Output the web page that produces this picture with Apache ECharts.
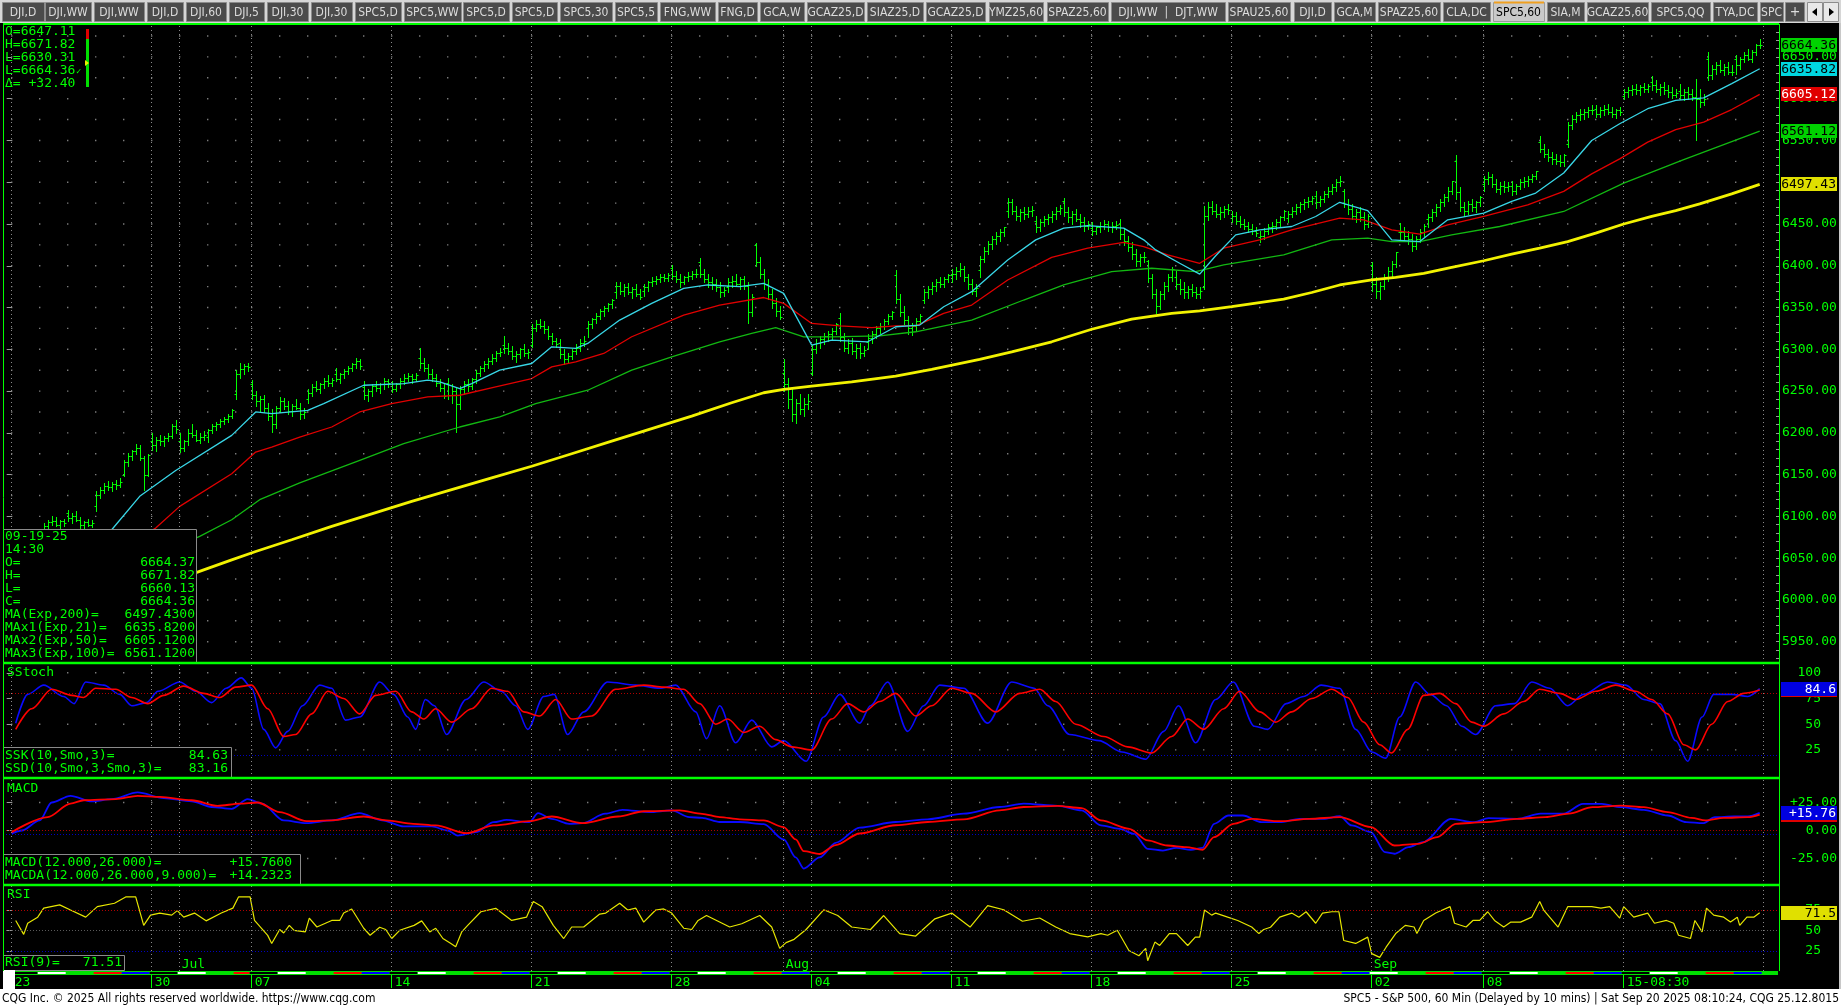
<!DOCTYPE html>
<html>
<head>
<meta charset="utf-8">
<title>SPC5 - S&amp;P 500, 60 Min</title>
<script src="https://cdn.jsdelivr.net/npm/echarts@6.0.0/dist/echarts.min.js"></script>
<style>
html,body{margin:0;padding:0;background:#000;overflow:hidden;}
#chart{width:1841px;height:1008px;}
</style>
</head>
<body>
<div id="chart"></div>
<script>
// ================= DATA =================
const tradingDays = ['2025-06-23','2025-06-24','2025-06-25','2025-06-26','2025-06-27','2025-06-30',
'2025-07-01','2025-07-02','2025-07-03','2025-07-07','2025-07-08','2025-07-09','2025-07-10','2025-07-11',
'2025-07-14','2025-07-15','2025-07-16','2025-07-17','2025-07-18','2025-07-21','2025-07-22','2025-07-23',
'2025-07-24','2025-07-25','2025-07-28','2025-07-29','2025-07-30','2025-07-31','2025-08-01','2025-08-04',
'2025-08-05','2025-08-06','2025-08-07','2025-08-08','2025-08-11','2025-08-12','2025-08-13','2025-08-14',
'2025-08-15','2025-08-18','2025-08-19','2025-08-20','2025-08-21','2025-08-22','2025-08-25','2025-08-26',
'2025-08-27','2025-08-28','2025-08-29','2025-09-02','2025-09-03','2025-09-04','2025-09-05','2025-09-08',
'2025-09-09','2025-09-10','2025-09-11','2025-09-12','2025-09-15','2025-09-16','2025-09-17','2025-09-18','2025-09-19'];
const shortSessions = {'2025-07-03': 4};   // bars in a shortened session (others have 7)
const weekLabels = ['23','30','07','14','21','28','04','11','18','25','02','08','15-08:30'];
const monthLabels = ['Jul','Aug','Sep'];

// hourly bars [open, high, low, close]
const ohlcJun = [
[5970,5986,5962,5975],[5975,5980,5955,5960],[5960,5968,5943,5965],[5965,5990,5960,5985],[5985,6000,5980,5995],[5995,6012,5990,6008],[6008,6026,6005,6025],
[6062,6085,6058,6080],[6080,6092,6075,6088],[6088,6096,6084,6093],[6093,6101,6090,6095],[6095,6099,6088,6090],[6090,6096,6086,6094],[6094,6097,6089,6092],
[6104,6108,6095,6098],[6098,6104,6092,6100],[6100,6106,6094,6096],[6096,6099,6086,6090],[6090,6095,6082,6093],[6093,6097,6088,6090],[6090,6096,6087,6092],
[6112,6130,6107,6126],[6126,6135,6122,6132],[6132,6140,6128,6136],[6136,6142,6131,6135],[6135,6141,6130,6139],[6139,6144,6133,6137],[6137,6146,6135,6141],
[6150,6168,6148,6165],[6165,6176,6160,6172],[6172,6180,6168,6178],[6178,6187,6175,6182],[6182,6185,6168,6170],[6170,6172,6132,6150],[6150,6175,6148,6173],
[6190,6200,6180,6185],[6185,6195,6178,6192],[6192,6198,6186,6190],[6190,6196,6184,6194],[6194,6200,6190,6196],[6196,6210,6194,6208],[6208,6215,6200,6205]];
const ohlcJul = [
[6190,6200,6177,6182],[6182,6192,6178,6190],[6190,6205,6186,6200],[6200,6210,6195,6198],[6198,6203,6190,6192],[6192,6200,6188,6195],[6195,6202,6192,6198],
[6195,6205,6189,6203],[6203,6210,6200,6208],[6208,6213,6204,6210],[6210,6216,6207,6214],[6214,6219,6210,6217],[6217,6222,6213,6220],[6220,6228,6218,6227],
[6246,6275,6241,6270],[6270,6284,6266,6276],[6276,6283,6270,6280],[6280,6284,6274,6279],
[6259,6263,6240,6245],[6245,6250,6232,6238],[6238,6244,6225,6240],[6240,6245,6225,6230],[6230,6236,6215,6220],[6220,6228,6201,6210],[6210,6232,6206,6230],
[6230,6243,6225,6238],[6238,6242,6228,6232],[6232,6238,6222,6226],[6226,6234,6220,6232],[6232,6240,6228,6230],[6230,6236,6216,6222],[6222,6230,6218,6225],
[6240,6252,6236,6248],[6248,6258,6244,6255],[6255,6262,6250,6252],[6252,6260,6248,6258],[6258,6266,6254,6262],[6262,6269,6256,6260],[6260,6266,6256,6263],
[6270,6278,6262,6265],[6265,6272,6260,6270],[6270,6276,6266,6274],[6274,6280,6270,6278],[6278,6284,6274,6282],[6282,6290,6278,6286],[6286,6288,6276,6280],
[6255,6262,6240,6245],[6245,6252,6238,6250],[6250,6258,6244,6256],[6256,6262,6250,6254],[6254,6260,6248,6258],[6258,6266,6252,6262],[6262,6265,6255,6260],
[6256,6262,6249,6252],[6252,6260,6250,6258],[6258,6266,6254,6262],[6262,6270,6258,6266],[6266,6272,6262,6268],[6268,6271,6260,6264],[6264,6272,6262,6269],
[6290,6302,6278,6284],[6284,6290,6274,6278],[6278,6282,6266,6270],[6270,6276,6262,6266],[6266,6270,6256,6260],[6260,6264,6250,6254],[6254,6258,6242,6244],
[6260,6266,6240,6245],[6245,6258,6236,6250],[6250,6254,6201,6235],[6235,6256,6228,6252],[6252,6262,6246,6258],[6258,6264,6250,6256],[6256,6266,6252,6264],
[6264,6275,6260,6272],[6272,6280,6268,6278],[6278,6286,6274,6282],[6282,6290,6278,6286],[6286,6294,6282,6290],[6290,6298,6286,6295],[6295,6302,6292,6297],
[6305,6316,6296,6302],[6302,6308,6294,6298],[6298,6304,6288,6292],[6292,6298,6285,6294],[6294,6302,6290,6300],[6300,6306,6292,6296],[6296,6300,6290,6297],
[6305,6330,6303,6326],[6326,6335,6322,6330],[6330,6336,6325,6328],[6328,6334,6320,6324],[6324,6328,6312,6316],[6316,6320,6306,6310],[6310,6314,6303,6306],
[6307,6312,6290,6294],[6294,6300,6282,6288],[6288,6296,6284,6292],[6292,6300,6288,6298],[6298,6306,6294,6302],[6302,6312,6298,6308],[6308,6316,6304,6310],
[6326,6334,6315,6330],[6330,6338,6326,6336],[6336,6344,6332,6340],[6340,6348,6336,6346],[6346,6352,6340,6350],[6350,6356,6346,6354],[6354,6360,6350,6359],
[6368,6381,6362,6376],[6376,6380,6366,6370],[6370,6378,6364,6374],[6374,6379,6366,6368],[6368,6375,6362,6372],[6372,6378,6364,6366],[6366,6372,6360,6363],
[6370,6378,6364,6375],[6375,6382,6370,6380],[6380,6386,6376,6382],[6382,6388,6378,6384],[6384,6390,6380,6386],[6386,6390,6382,6385],[6385,6391,6382,6389],
[6397,6401,6384,6388],[6388,6394,6380,6384],[6384,6390,6375,6380],[6380,6388,6378,6386],[6386,6392,6382,6388],[6388,6394,6384,6390],[6390,6396,6386,6390],
[6404,6409,6386,6390],[6390,6396,6380,6384],[6384,6390,6374,6380],[6380,6386,6372,6378],[6378,6384,6370,6374],[6374,6380,6363,6368],[6368,6375,6364,6371],
[6375,6385,6368,6380],[6380,6388,6374,6382],[6382,6390,6376,6378],[6378,6386,6372,6384],[6384,6388,6372,6376],[6376,6380,6332,6345],[6345,6366,6340,6363],
[6425,6427,6400,6405],[6405,6410,6385,6390],[6390,6396,6372,6378],[6378,6384,6360,6366],[6366,6372,6350,6356],[6356,6362,6340,6346],[6346,6352,6336,6339]];
const ohlcAug = [
[6272,6288,6250,6258],[6258,6266,6230,6240],[6240,6252,6214,6222],[6222,6240,6212,6236],[6236,6246,6222,6228],[6228,6242,6220,6234],[6234,6246,6228,6238],
[6272,6305,6269,6300],[6300,6312,6296,6308],[6308,6316,6302,6312],[6312,6320,6306,6316],[6316,6322,6310,6318],[6318,6326,6312,6322],[6322,6331,6318,6330],
[6337,6344,6310,6315],[6315,6320,6298,6302],[6302,6312,6296,6308],[6308,6314,6294,6298],[6298,6306,6290,6302],[6302,6308,6289,6296],[6296,6304,6292,6299],
[6309,6318,6300,6314],[6314,6322,6308,6318],[6318,6328,6314,6325],[6325,6332,6320,6328],[6328,6336,6324,6334],[6334,6342,6330,6340],[6340,6346,6336,6345],
[6389,6395,6355,6360],[6360,6366,6340,6345],[6345,6352,6330,6335],[6335,6340,6318,6325],[6325,6332,6317,6328],[6328,6338,6322,6334],[6334,6342,6330,6340],
[6359,6372,6355,6368],[6368,6376,6362,6372],[6372,6380,6366,6376],[6376,6384,6370,6380],[6380,6386,6374,6378],[6378,6386,6374,6384],[6384,6390,6380,6389],
[6389,6396,6380,6390],[6390,6398,6384,6394],[6394,6403,6388,6396],[6396,6400,6382,6386],[6386,6390,6372,6378],[6378,6384,6366,6370],[6370,6378,6364,6373],
[6395,6412,6386,6408],[6408,6422,6404,6418],[6418,6430,6414,6426],[6426,6436,6420,6432],[6432,6440,6426,6436],[6436,6444,6430,6440],[6440,6447,6436,6446],
[6466,6481,6458,6476],[6476,6480,6462,6466],[6466,6472,6455,6460],[6460,6468,6453,6464],[6464,6470,6456,6462],[6462,6470,6458,6466],[6466,6472,6460,6467],
[6453,6460,6441,6446],[6446,6456,6442,6452],[6452,6460,6448,6456],[6456,6462,6450,6458],[6458,6466,6452,6462],[6462,6470,6456,6466],[6466,6473,6462,6469],
[6478,6481,6460,6464],[6464,6470,6452,6458],[6458,6466,6450,6462],[6462,6468,6454,6456],[6456,6462,6446,6452],[6452,6458,6442,6448],[6448,6454,6444,6450],
[6445,6452,6437,6442],[6442,6448,6438,6446],[6446,6452,6440,6448],[6448,6455,6444,6450],[6450,6454,6442,6446],[6446,6452,6440,6448],[6448,6454,6444,6449],
[6450,6456,6432,6438],[6438,6444,6425,6430],[6430,6436,6418,6422],[6422,6428,6408,6414],[6414,6420,6400,6406],[6406,6414,6400,6410],[6410,6416,6404,6411],
[6406,6407,6380,6385],[6385,6390,6362,6366],[6366,6372,6343,6352],[6352,6370,6348,6366],[6366,6380,6360,6376],[6376,6390,6370,6386],[6386,6398,6382,6396],
[6387,6394,6372,6378],[6378,6384,6366,6372],[6372,6380,6361,6368],[6368,6376,6362,6372],[6372,6378,6364,6368],[6368,6374,6362,6366],[6366,6374,6362,6370],
[6374,6472,6372,6460],[6460,6476,6455,6470],[6470,6478,6462,6466],[6466,6474,6458,6462],[6462,6470,6456,6464],[6464,6472,6458,6468],[6468,6474,6462,6467],
[6457,6466,6452,6460],[6460,6464,6450,6454],[6454,6460,6446,6450],[6450,6456,6444,6448],[6448,6452,6440,6444],[6444,6450,6438,6442],[6442,6446,6436,6439],
[6435,6442,6428,6436],[6436,6445,6432,6442],[6442,6450,6438,6446],[6446,6452,6440,6448],[6448,6456,6444,6452],[6452,6460,6448,6458],[6458,6467,6455,6466],
[6457,6466,6452,6462],[6462,6470,6458,6466],[6466,6474,6462,6470],[6470,6476,6464,6474],[6474,6480,6468,6476],[6476,6482,6470,6478],[6478,6484,6474,6481],
[6483,6490,6469,6476],[6476,6484,6472,6480],[6480,6490,6476,6486],[6486,6494,6482,6490],[6490,6498,6486,6494],[6494,6504,6490,6500],[6500,6508,6496,6502],
[6490,6492,6470,6474],[6474,6480,6462,6468],[6468,6474,6456,6460],[6460,6468,6452,6464],[6464,6470,6454,6458],[6458,6464,6444,6450],[6450,6462,6446,6460]];
const ohlcSep = [
[6401,6404,6370,6378],[6378,6386,6362,6370],[6370,6380,6360,6376],[6376,6390,6372,6386],[6386,6398,6382,6394],[6394,6406,6388,6402],[6402,6416,6398,6416],
[6441,6451,6432,6440],[6440,6446,6430,6436],[6436,6442,6426,6432],[6432,6438,6418,6424],[6424,6436,6420,6432],[6432,6444,6428,6440],[6440,6450,6436,6448],
[6456,6462,6446,6458],[6458,6468,6454,6464],[6464,6474,6460,6470],[6470,6480,6466,6476],[6476,6486,6472,6482],[6482,6494,6478,6490],[6490,6502,6486,6502],
[6525,6533,6480,6488],[6488,6494,6466,6470],[6470,6476,6460,6466],[6466,6478,6462,6474],[6474,6480,6466,6470],[6470,6478,6464,6476],[6476,6484,6472,6482],
[6498,6508,6490,6504],[6504,6512,6498,6506],[6506,6510,6494,6498],[6498,6504,6488,6492],[6492,6500,6486,6496],[6496,6502,6488,6494],[6494,6500,6490,6495],
[6496,6502,6485,6490],[6490,6498,6486,6496],[6496,6504,6492,6500],[6500,6506,6494,6502],[6502,6508,6496,6504],[6504,6510,6500,6508],[6508,6514,6504,6513],
[6548,6555,6536,6540],[6540,6546,6530,6534],[6534,6540,6526,6530],[6530,6536,6522,6528],[6528,6534,6522,6526],[6526,6532,6520,6524],[6524,6534,6520,6532],
[6546,6572,6542,6568],[6568,6580,6564,6576],[6576,6584,6572,6580],[6580,6588,6574,6582],[6582,6588,6576,6584],[6584,6590,6578,6586],[6586,6593,6582,6587],
[6588,6593,6578,6582],[6582,6590,6578,6586],[6586,6592,6580,6588],[6588,6594,6582,6584],[6584,6590,6578,6582],[6582,6588,6577,6586],[6586,6590,6580,6584],
[6603,6612,6600,6608],[6608,6614,6602,6610],[6610,6616,6604,6612],[6612,6618,6606,6610],[6610,6616,6604,6614],[6614,6619,6608,6612],[6612,6618,6608,6615],
[6620,6627,6610,6616],[6616,6622,6608,6612],[6612,6618,6604,6614],[6614,6620,6606,6610],[6610,6616,6602,6608],[6608,6614,6601,6604],[6604,6612,6602,6607],
[6609,6618,6600,6604],[6604,6612,6598,6608],[6608,6614,6600,6606],[6606,6612,6598,6602],[6602,6624,6551,6600],[6600,6612,6590,6596],[6596,6606,6592,6600],
[6648,6656,6622,6628],[6628,6640,6624,6636],[6636,6644,6630,6640],[6640,6646,6632,6634],[6634,6642,6628,6638],[6638,6644,6630,6632],[6632,6640,6628,6632],
[6647,6652,6630,6640],[6640,6650,6636,6648],[6648,6656,6644,6652],[6652,6660,6646,6648],[6648,6658,6644,6656],[6656,6666,6652,6664],[6664.37,6671.82,6660.13,6664.36]];

// moving averages: [bar index, value]
const ma200 = [[30,6008],[40,6022],[48,6036],[55,6048],[61,6058],[70,6072],[80,6088],[90,6103],[100,6118],[110,6132],[120,6146],[130,6160],[140,6175],[150,6190],[160,6205],[170,6220],[180,6236],[188,6248],[193,6252],[200,6256],[210,6261],[221,6268],[230,6276],[242,6288],[250,6297],[260,6309],[270,6324],[280,6336],[290,6343],[297,6346],[305,6351],[318,6360],[325,6368],[332,6377],[340,6383],[346,6386],[353,6391],[360,6398],[368,6406],[375,6414],[382,6421],[389,6429],[396,6439],[403,6450],[410,6459],[416,6466],[422,6474],[430,6486],[437,6497.43]];
const ma21 = [[10,6050],[25,6084],[32,6124],[41,6155],[55,6197],[61,6225],[65,6223],[74,6227],[78,6235],[88,6257],[98,6259],[104,6263],[107,6261],[112,6253],[115,6259],[122,6275],[130,6283],[135,6303],[141,6301],[144,6307],[152,6335],[160,6355],[168,6373],[174,6377],[182,6375],[188,6379],[193,6367],[200,6305],[205,6311],[214,6309],[221,6327],[227,6329],[233,6351],[240,6369],[249,6407],[256,6431],[263,6445],[269,6448],[275,6446],[278,6445],[283,6431],[286,6419],[292,6403],[297,6390],[301,6412],[306,6437],[312,6443],[320,6447],[326,6459],[332,6476],[339,6466],[345,6431],[352,6429],[359,6455],[368,6463],[375,6477],[381,6487],[388,6511],[395,6550],[402,6570],[409,6588],[416,6598],[423,6601],[430,6618],[437,6635.82]];
const ma50 = [[20,6040],[36,6086],[42,6112],[55,6151],[61,6177],[65,6183],[72,6195],[80,6207],[87,6225],[95,6235],[104,6243],[112,6245],[121,6255],[130,6265],[135,6279],[141,6285],[148,6295],[155,6315],[168,6341],[177,6353],[188,6362],[193,6355],[200,6331],[207,6328],[215,6326],[221,6328],[226,6328],[233,6343],[240,6353],[249,6383],[260,6410],[269,6421],[278,6428],[283,6423],[289,6413],[297,6403],[303,6421],[312,6431],[320,6443],[332,6457],[338,6455],[345,6443],[352,6438],[359,6449],[368,6459],[379,6473],[388,6489],[395,6510],[402,6528],[409,6548],[416,6563],[423,6572],[430,6587],[437,6605.12]];
const ma100 = [[30,6040],[47,6076],[55,6096],[62,6120],[72,6140],[87,6167],[98,6187],[112,6207],[122,6219],[131,6235],[144,6251],[155,6275],[165,6291],[177,6309],[185,6319],[191,6326],[198,6315],[205,6315],[217,6316],[226,6321],[240,6335],[253,6359],[263,6377],[275,6393],[285,6397],[296,6393],[303,6401],[318,6413],[330,6431],[339,6433],[345,6429],[352,6429],[360,6437],[372,6447],[388,6465],[403,6499],[418,6527],[437,6561.12]];

// slow stochastic
const ssk = [[1,51],[4,79],[8,88],[13,77],[15.6,70],[18.5,91],[23,88],[27,79],[30,68],[33.7,71],[36.6,82],[42,91],[46,82],[50,71],[53.6,85],[57.4,95],[60,85],[63,45],[66,27],[69,43],[72.7,68],[77,88],[80,85],[83.5,54],[87,57],[92,91],[95.5,79],[99,57],[101,45],[103.4,74],[105.7,68],[108.7,40],[113.6,74],[118,91],[122.4,82],[126,68],[129,45],[133,77],[135.6,79],[139,40],[143,62],[149,91],[156,88],[162,85],[166,88],[171,62],[173.7,36],[177,68],[181,32],[185,54],[190,28],[193,34],[198.6,14],[203,57],[207,79],[212,51],[214.7,68],[219,91],[224,43],[228,68],[232,88],[238,85],[244,51],[250,91],[255.6,85],[259,68],[264.5,40],[271.8,34],[277.6,23],[283.5,16],[288,43],[291.7,68],[296,32],[301,74],[305.4,91],[310.7,48],[314,45],[318.6,70],[323,77],[327.4,88],[332,85],[336,45],[340,23],[343.5,17],[347,57],[351,91],[354.6,79],[358.7,68],[362.5,48],[366,40],[371,68],[375.7,70],[380,91],[384.5,85],[389,68],[393,79],[399,91],[403.5,88],[408,74],[412,70],[416,34],[419,14],[422.6,57],[425.5,79],[430,79],[434,77],[437,84.63]];
const ssd = [[1,45],[5,65],[10,84],[15,78],[18,76],[21,85],[26,84],[30,76],[34,70],[38,78],[43,87],[48,80],[52,76],[56,86],[60,88],[64,65],[68,38],[71,40],[75,60],[79,82],[83,75],[87,60],[91,78],[96,82],[100,62],[103,55],[106,65],[110,52],[115,65],[120,85],[124,82],[128,62],[132,58],[136,74],[140,55],[145,58],[151,84],[158,88],[163,86],[168,84],[172,70],[176,50],[179,55],[183,42],[187,48],[191,35],[195,28],[200,25],[205,55],[209,70],[213,62],[217,72],[221,80],[226,58],[230,68],[235,85],[240,80],[246,62],[252,80],[257,84],[261,72],[266,50],[273,38],[279,28],[285,22],[290,38],[294,55],[298,45],[303,65],[307,82],[312,62],[316,52],[320,62],[325,75],[330,84],[334,76],[338,52],[342,30],[345,22],[349,45],[353,78],[357,80],[361,70],[365,52],[368,48],[373,60],[378,72],[382,84],[387,80],[391,74],[396,82],[401,88],[406,82],[410,74],[414,60],[418,30],[421,25],[425,50],[429,72],[433,80],[437,83.16]];

// MACD (12,26) and its average (9)
const macdLine = [[0,-2.7],[2.5,0],[7,9],[10,25],[14.7,31],[20,26],[25,28],[31.5,34],[38,29],[45,26],[50,21],[55,19.4],[59,28],[62.6,24],[68,9],[73.7,6.5],[80,9],[87,15.5],[92.6,9],[98,3.6],[105,3.6],[109,0],[111.5,-4.5],[116,-1.5],[120.5,7.4],[123.7,9.5],[129.4,7.4],[131.6,15.5],[135,10.4],[139.4,6],[142.7,6.5],[148.4,15],[152.7,18.5],[159.4,16.4],[165,17.9],[169.4,11.9],[172.6,11.3],[177,7.6],[182,7.6],[188,5.7],[193,-8],[196,-24],[198,-34],[202,-24],[206,-11],[212,2.6],[221,7.6],[229,10],[238,15],[247,21],[253,24],[261.5,22],[267.5,18],[272.3,4.5],[277,1.5],[280.6,-3],[284,-16.4],[287.8,-17.9],[291.2,-15.5],[294.8,-17.2],[297.7,-15.5],[300.6,6],[304.2,13.4],[307.8,13.4],[312.5,7.4],[317,7.4],[322,10.4],[327.9,10.4],[332,12.8],[335,4.5],[339.8,-1.5],[343.3,-19.4],[345.7,-20.8],[349.2,-14.9],[352.8,-10.4],[359.8,10.4],[365.7,7.4],[369.2,11],[376.3,10.4],[382.2,15],[388,15],[392.8,23.8],[397.5,23.8],[402.3,20.8],[408,18.5],[414,13.4],[418.7,7.4],[422.8,6.5],[425.8,11.9],[430.5,12.5],[434,12.5],[437,15.76]];
const macdAvg = [[0,-1.5],[9,12],[14.7,24],[18,27],[26,28],[31.5,31],[37,30],[45,27],[51.5,22],[57,24],[61.5,25],[67,16.4],[73.7,8.3],[80,9],[88,12.5],[93.7,9],[100.4,6],[106,4.5],[113.7,-2.4],[120.5,4.5],[129.4,8.3],[135,12.5],[142.7,6.5],[151.6,12.5],[158,17.2],[167,17.9],[172.6,14.9],[177,12],[182,10],[188,9],[193,3],[196,-8],[198,-18.5],[202,-21],[206,-13],[212,-2.7],[221,4.7],[229,7.6],[238,10],[247,18],[253,21],[261.5,22],[267.5,20],[272.3,9],[279.4,1.5],[284,-8.9],[288.9,-13.4],[293.6,-14.9],[297.7,-17.2],[300.6,-6],[305.4,6],[310,10.4],[317,8.3],[324.4,10.4],[332,11.9],[339.8,3],[345.7,-13.4],[351.6,-11.9],[356.4,-6],[361,6],[368,7.4],[376.3,10.4],[383.4,11.9],[389.3,15],[395.2,20.8],[402.3,22.3],[408,20.8],[414,16.4],[420,11.3],[423.4,9],[428,11.3],[434,11.9],[437,14.2323]];

// RSI(9)
const rsi9 = [[1,62],[3,45],[4,58.6],[6.5,66],[8,77],[12,81],[14.7,74.7],[18.5,66],[21.4,78.8],[25.7,83],[28.5,90.7],[31,90.7],[33,56],[34.7,68.5],[37,71],[40,68.5],[41.4,74],[43,66],[45.7,71],[48.6,61.5],[52.4,71],[55.3,77],[56.7,90.7],[59.6,90.7],[60.7,62],[64,43.8],[65,34],[67,51],[68,46.7],[69.4,56],[70.6,50],[73.4,48],[74.4,64.8],[76.3,54],[80,62],[82,62],[83,71],[85,76],[88,52.5],[89.6,44],[92,53.7],[93.5,51],[95,40],[97,50],[100.6,56],[102.5,61.5],[104.5,48],[106,52.5],[107.8,40],[109.7,34.3],[111,30],[112.5,48],[114,56],[117.3,72.6],[121,76.8],[125,62],[128.7,66],[130.4,85],[132.6,78.8],[135.4,56],[138,40],[140,54],[143,54],[147,69.8],[148.5,71],[152,83],[154,74.7],[156,77],[158,60],[161,74.7],[163,76],[165,71],[168,52.5],[170,51],[171.6,62],[173.7,68],[176.6,61],[179.5,54],[182.5,58],[187,68],[190,54],[192,28],[193.6,35],[195.6,39],[198.6,51],[203,75],[206.5,68],[210,54],[214.7,51],[218,68],[222,46],[226,43],[230.8,64],[235,71],[239.6,54],[244,80],[248,75],[252.7,61],[257,65],[261,54],[264.5,46],[269,42],[272.3,46],[274,44],[276.4,50],[279.3,25.3],[281.8,19],[283.5,28],[284,13],[285.8,35.6],[287,31.5],[289.4,46],[291.2,46],[294,31.5],[295.9,41.7],[297,41.7],[298.2,74.7],[300,68.5],[301,71],[304,66],[306.5,62],[310,54],[311.8,46],[313,51],[314.7,53.7],[317,66],[320,71],[321.8,66],[323.6,72.6],[326,58.6],[327.7,71],[330,72.6],[331.8,72.6],[333,37.6],[336,34],[339,41.7],[340,21.6],[342,17],[343.6,29.4],[346,46],[348.4,56],[350.6,54],[351.3,46],[353,62],[356,71],[359.6,78.8],[360.7,58.6],[363.6,54],[365.3,62],[367,62],[369,72.6],[370.7,62],[373,54],[374.8,60],[377.2,60],[380,66],[382,85],[383,74.7],[386.6,54],[389,78.8],[391.3,78.8],[395,78.8],[397.3,77],[399.5,78.8],[402,64.8],[403,78.8],[405.5,66],[409,71],[410.7,58.6],[413.7,62],[415.5,58.6],[416.7,44],[419.7,40],[420.8,62],[422.6,48],[423.7,77],[425.5,68.5],[428,66],[429.7,60],[431.4,66],[432,56],[433.8,66],[435.5,66],[437,71.51]];

const priceTicks = [5950,6000,6050,6100,6150,6200,6250,6300,6350,6400,6450,6500,6550,6600,6650];
const stochTicks = [25,50,75,100];
const macdTicks = [-25,0,25];
const rsiTicks = [25,50,75];
const dayHigh = 6671.82, dayLow = 6630.31, dayOpen = 6647.11, netChange = 32.40;

// ================= LAYOUT / STYLE =================
const GREEN = '#00ff00';
const MONO = '"DejaVu Sans Mono", "Liberation Mono", monospace';
const FONT = '13px ' + MONO;
const NARROW = '"Liberation Sans Narrow", "DejaVu Sans Condensed", "Roboto Condensed", sans-serif';
const X_MIN = -2.175, X_MAX = 441.825;
const PRICE_MIN = 5924.5, PRICE_MAX = 6689.4;

const ohlc = [].concat(ohlcJun, ohlcJul, ohlcAug, ohlcSep);
const N = ohlc.length;
const dayBars = tradingDays.map(d => shortSessions[d] || 7);
const dayStarts = []; { let a = 0; for (const n of dayBars) { dayStarts.push(a); a += n; } }
const weekday = tradingDays.map(d => new Date(d + 'T12:00:00Z').getUTCDay());
const weekStarts = dayStarts.filter((s, i) => i === 0 || weekday[i] <= weekday[i - 1]);
const monthStarts = dayStarts.filter((s, i) => i > 0 && tradingDays[i].slice(5, 7) !== tradingDays[i - 1].slice(5, 7));
const vLines = Array.from(new Set([...weekStarts, ...monthStarts, N])).sort((a, b) => a - b);

const chart = echarts.init(document.getElementById('chart'), null, {renderer: 'canvas', width: 1841, height: 1008});

function dots(levels) {
  const out = [];
  dayStarts.forEach(s => levels.forEach(l => out.push([s, l])));
  return out;
}
const priceLevels = []; for (let v = 5950; v <= 6675; v += 25) priceLevels.push(v);
const minorPriceTicks = []; for (let v = 5930; v <= 6680; v += 10) minorPriceTicks.push(v);

const vMark = vLines.map(x => ({xAxis: x}));
function markLines(extra) {
  return {
    silent: true, symbol: ['none', 'none'], animation: false,
    label: {show: false},
    lineStyle: {type: [1, 3], color: '#8a8a8a', width: 1},
    data: vMark.concat(extra || [])
  };
}
function hLine(v, color) { return {yAxis: v, lineStyle: {type: [1, 2], color: color, width: 1}}; }

const xAxes = [0, 1, 2, 3].map(k => ({
  type: 'value', gridIndex: k, min: X_MIN, max: X_MAX, show: false
}));
xAxes.push({
  type: 'value', gridIndex: 4, min: X_MIN, max: X_MAX, show: true,
  axisLine: {show: false}, splitLine: {show: false},
  axisTick: {show: true, customValues: weekStarts, length: 13, lineStyle: {color: GREEN, width: 1}},
  axisLabel: {show: true, customValues: weekStarts, formatter: v => weekLabels[weekStarts.indexOf(v)] || '',
    color: GREEN, fontFamily: MONO, fontSize: 13, align: 'left', margin: 1, padding: [0, 0, 0, 3]}
});

function yAx(grid, min, max, ticks, fmt, align, margin, showTicks) {
  return {
    type: 'value', gridIndex: grid, min: min, max: max, position: 'right',
    axisLine: {show: false}, splitLine: {show: false},
    axisTick: {show: showTicks, inside: true, length: 5, customValues: ticks, lineStyle: {color: '#9a9a9a'}},
    axisLabel: {show: !!fmt, customValues: ticks, formatter: fmt, color: GREEN, fontFamily: MONO, fontSize: 13,
      align: align, margin: margin}
  };
}
const yAxes = [
  yAx(0, PRICE_MIN, PRICE_MAX, priceTicks, v => v.toFixed(2), 'left', 3, true),
  yAx(0, PRICE_MIN, PRICE_MAX, minorPriceTicks, null, 'left', 3, true),
  yAx(1, -2.3, 109.5, stochTicks, v => String(v), 'right', 42, true),
  yAx(2, -48.7, 46.9, macdTicks, v => (v > 0 ? '+' : '') + v.toFixed(2), 'right', 58, true),
  yAx(3, 0.4, 105.2, rsiTicks, v => String(v), 'right', 42, true),
  {type: 'value', gridIndex: 4, min: 0, max: 1, show: false}
];
yAxes[1].axisTick.length = 3;

function lineSeries(name, data, xi, yi, color, width, z, smooth) {
  return {name, type: 'line', xAxisIndex: xi, yAxisIndex: yi, data, showSymbol: false, symbol: 'none',
    smooth: smooth || false, smoothMonotone: 'x', lineStyle: {color, width}, itemStyle: {color}, z: z || 4, silent: true, animation: false};
}

const series = [
  {type: 'scatter', xAxisIndex: 0, yAxisIndex: 0, data: dots(priceLevels), symbol: 'rect', symbolSize: 1.4,
    itemStyle: {color: '#9a9a9a'}, silent: true, z: 1, markLine: markLines()},
  {type: 'custom', xAxisIndex: 0, yAxisIndex: 0, z: 3, silent: true,
    data: ohlc.map((b, i) => [i, b[0], b[1], b[2], b[3]]),
    encode: {x: 0, y: [1, 2, 3, 4]},
    renderItem: function (params, api) {
      const x = api.value(0);
      const po = api.coord([x, api.value(1)]), ph = api.coord([x, api.value(2)]);
      const pl = api.coord([x, api.value(3)]), pc = api.coord([x, api.value(4)]);
      const cx = Math.round(ph[0]) + 0.5;
      const st = {stroke: GREEN, lineWidth: 1};
      const oy = Math.round(po[1]) + 0.5, cy = Math.round(pc[1]) + 0.5;
      return {type: 'group', children: [
        {type: 'line', shape: {x1: cx, y1: Math.round(ph[1]), x2: cx, y2: Math.round(pl[1]) + 1}, style: st},
        {type: 'line', shape: {x1: cx - 2, y1: oy, x2: cx, y2: oy}, style: st},
        {type: 'line', shape: {x1: cx, y1: cy, x2: cx + 2, y2: cy}, style: st}
      ]};
    }},
  lineSeries('MA100', ma100, 0, 0, '#12b812', 1.3, 4),
  lineSeries('MA50', ma50, 0, 0, '#e00000', 1.3, 4),
  lineSeries('MA21', ma21, 0, 0, '#38d6e6', 1.3, 5),
  lineSeries('MA200', ma200, 0, 0, '#f2f200', 2.8, 5),

  {type: 'scatter', xAxisIndex: 1, yAxisIndex: 2, data: dots([100, 50, 25]), symbol: 'rect', symbolSize: 1.4,
    itemStyle: {color: '#9a9a9a'}, silent: true, z: 1,
    markLine: markLines([hLine(80, '#b00000'), hLine(20, '#0000c0')])},
  lineSeries('SSK', ssk, 1, 2, '#0a0aff', 1.6, 4, 0.3),
  lineSeries('SSD', ssd, 1, 2, '#ff0000', 1.6, 5, 0.3),

  {type: 'scatter', xAxisIndex: 2, yAxisIndex: 3, data: dots([25, -25]), symbol: 'rect', symbolSize: 1.4,
    itemStyle: {color: '#9a9a9a'}, silent: true, z: 1,
    markLine: markLines([hLine(0, '#b00000'), hLine(-3.5, '#0000c0')])},
  lineSeries('MACD', macdLine, 2, 3, '#0a0aff', 1.8, 4, 0.3),
  lineSeries('MACDA', macdAvg, 2, 3, '#ff0000', 1.8, 5, 0.3),

  {type: 'scatter', xAxisIndex: 3, yAxisIndex: 4, data: dots([]), symbol: 'rect', symbolSize: 1.4,
    itemStyle: {color: '#9a9a9a'}, silent: true, z: 1,
    markLine: markLines([hLine(75, '#b00000'), hLine(50, '#5a5a5a'), hLine(25, '#0000c0')])},
  lineSeries('RSI', rsi9, 3, 4, '#e6e600', 1.2, 4),

  {type: 'custom', xAxisIndex: 4, yAxisIndex: 5, z: 3, silent: true,
    data: dayStarts.map((s, i) => [s, s + dayBars[i], weekday[i]]),
    encode: {x: [0, 1]},
    renderItem: function (params, api) {
      const colors = {1: '#000000', 2: '#ffffff', 4: '#ff0000', 5: '#0000ff'};
      const c = colors[api.value(2)];
      if (!c) return null;
      const p0 = api.coord([api.value(0) - 0.5, 0.75]);
      const p1 = api.coord([api.value(1) - 0.5, 0.25]);
      return {type: 'rect', shape: {x: p0[0], y: p0[1], width: p1[0] - p0[0], height: p1[1] - p0[1]}, style: {fill: c}};
    }}
];

chart.setOption({
  backgroundColor: '#000000',
  animation: false,
  grid: [
    {left: 3, top: 24, width: 1776, height: 639},
    {left: 3, top: 663, width: 1776, height: 115},
    {left: 3, top: 778, width: 1776, height: 107},
    {left: 3, top: 885, width: 1776, height: 86},
    {left: 3, top: 971, width: 1776, height: 4}
  ],
  xAxis: xAxes,
  yAxis: yAxes,
  series: series
});

// ================= CHROME (tabs, info boxes, value flags) =================
const tabNames = ['DJI,D','DJI,WW','DJI,WW','DJI,D','DJI,60','DJI,5','DJI,30','DJI,30','SPC5,D','SPC5,WW','SPC5,D','SPC5,D','SPC5,30','SPC5,5','FNG,WW','FNG,D','GCA,W','GCAZ25,D','SIAZ25,D','GCAZ25,D','YMZ25,60','SPAZ25,60','DJI,WW  |  DJT,WW','SPAU25,60','DJI,D','GCA,M','SPAZ25,60','CLA,DC','SPC5,60','SIA,M','GCAZ25,60','SPC5,QQ','TYA,DC','SPC'];
const tabEdges = [[2,44],[45,91],[94,144],[147,183],[186,226],[229,264],[267,308],[311,352],[355,401],[404,461],[463,509],[512,557],[560,612],[615,657],[660,715],[718,757],[760,804],[807,864],[867,923],[926,985],[989,1043],[1047,1108],[1111,1225],[1228,1290],[1294,1331],[1334,1375],[1378,1440],[1443,1490],[1493,1544],[1547,1584],[1587,1648],[1651,1710],[1713,1757],[1760,1783]];
const activeTab = 'SPC5,60';

const g = [];
const Z = 100;
function txt(t, x, y, opt) {
  opt = opt || {};
  g.push({type: 'text', z: opt.z || Z + 2, silent: true, style: {text: t, x: x, y: y, fill: opt.fill || GREEN,
    font: opt.font || FONT, textAlign: opt.align || 'left', textVerticalAlign: 'middle'}});
}
function rect(x, y, w, h, fill, stroke, z) {
  g.push({type: 'rect', z: z || Z, silent: true, shape: {x, y, width: w, height: h},
    style: {fill: fill || 'none', stroke: stroke || null, lineWidth: 1}});
}
function line(x1, y1, x2, y2, color, w, z) {
  g.push({type: 'line', z: z || Z + 5, silent: true, shape: {x1, y1, x2, y2}, style: {stroke: color, lineWidth: w}});
}

// tab bar
rect(0, 0, 1841, 23, '#d6d6d6', null, Z);
tabNames.forEach((name, i) => {
  const [a, b] = tabEdges[i];
  const act = name === activeTab;
  rect(a + 0.5, 2.5, b - a, 19, act ? '#c9c9c9' : '#4b4b4b', act ? '#9a9a9a' : '#8c8c8c', Z + 1);
  if (act) line(a + 1, 2.5, b, 2.5, '#f0a020', 2, Z + 2);
  txt(name, (a + b) / 2, 12.5, {fill: act ? '#000000' : '#dcdcdc', font: '12px ' + NARROW, align: 'center'});
});
rect(1785.5, 2.5, 19, 19, '#4b4b4b', '#8c8c8c', Z + 1);
txt('+', 1795, 12, {fill: '#dcdcdc', font: '14px ' + NARROW, align: 'center'});
rect(1807.5, 2.5, 15, 19, '#e8e8e8', '#8c8c8c', Z + 1);
rect(1823.5, 2.5, 15, 19, '#e8e8e8', '#8c8c8c', Z + 1);
g.push({type: 'polygon', z: Z + 2, silent: true, shape: {points: [[1817, 8], [1817, 16], [1812, 12]]}, style: {fill: '#000'}});
g.push({type: 'polygon', z: Z + 2, silent: true, shape: {points: [[1829, 8], [1829, 16], [1834, 12]]}, style: {fill: '#000'}});

// panel borders
line(3, 24, 1779, 24, GREEN, 2);
[663, 778, 885].forEach(y => line(3, y, 1779, y, GREEN, 2.5));
line(3.5, 24, 3.5, 971, GREEN, 1);
line(1779.5, 24, 1779.5, 971, GREEN, 1);
rect(1839, 23, 2, 966, '#c8c8c8', null, Z);

// top-left quote
const last = ohlc[N - 1];
txt('O=' + dayOpen.toFixed(2), 5, 32);
txt('H=' + dayHigh.toFixed(2), 5, 45);
txt('L=' + dayLow.toFixed(2), 5, 58);
txt('L=' + last[3].toFixed(2), 5, 71);
txt('\u2713', 76, 72, {font: '9px ' + MONO});
txt('\u0394= +' + netChange.toFixed(2), 5, 84);
rect(86, 29, 3, 10, '#e00000', null, Z + 1);
rect(86, 39, 3, 48, '#00e000', null, Z + 1);
g.push({type: 'polygon', z: Z + 3, silent: true, shape: {points: [[85, 60], [85, 66], [89, 63]]}, style: {fill: '#f0f000'}});

// bottom-left data window
rect(3.5, 529.5, 193, 133, '#000000', '#8a8a8a', Z + 1);
const lastDay = tradingDays[tradingDays.length - 1];
const rows = [
  [lastDay.slice(5, 7) + '-' + lastDay.slice(8, 10) + '-' + lastDay.slice(2, 4), ''],
  ['14:30', ''],
  ['O=', last[0].toFixed(2)], ['H=', last[1].toFixed(2)], ['L=', last[2].toFixed(2)], ['C=', last[3].toFixed(2)],
  ['MA(Exp,200)=', ma200[ma200.length - 1][1].toFixed(4)],
  ['MAx1(Exp,21)=', ma21[ma21.length - 1][1].toFixed(4)],
  ['MAx2(Exp,50)=', ma50[ma50.length - 1][1].toFixed(4)],
  ['MAx3(Exp,100)=', ma100[ma100.length - 1][1].toFixed(4)]
];
rows.forEach((r, i) => { const y = 536.5 + 13 * i; txt(r[0], 5, y); if (r[1]) txt(r[1], 195, y, {align: 'right'}); });

// panel titles & legends
txt('SStoch', 7, 673);
rect(3.5, 747.5, 228, 30, '#000000', '#8a8a8a', Z + 1);
txt('SSK(10,Smo,3)=', 5, 755.5); txt(ssk[ssk.length - 1][1].toFixed(2), 228, 755.5, {align: 'right'});
txt('SSD(10,Smo,3,Smo,3)=', 5, 769); txt(ssd[ssd.length - 1][1].toFixed(2), 228, 769, {align: 'right'});
txt('MACD', 7, 789);
rect(3.5, 854.5, 297, 30, '#000000', '#8a8a8a', Z + 1);
txt('MACD(12.000,26.000)=', 5, 863); txt('+' + macdLine[macdLine.length - 1][1].toFixed(4), 292, 863, {align: 'right'});
txt('MACDA(12.000,26.000,9.000)=', 5, 875.5); txt('+' + macdAvg[macdAvg.length - 1][1].toFixed(4), 292, 875.5, {align: 'right'});
txt('RSI', 7, 895);
rect(3.5, 955.5, 121, 15, '#000000', '#8a8a8a', Z + 1);
txt('RSI(9)=', 5, 963); txt(rsi9[rsi9.length - 1][1].toFixed(2), 122, 963, {align: 'right'});

// time axis chrome
rect(3, 971, 1775, 4, '#00e000', null, 2);
rect(3, 970, 12, 19, '#ffffff', null, Z + 3);
monthStarts.forEach((s, i) => {
  const x = chart.convertToPixel({xAxisIndex: 3}, s);
  txt(monthLabels[i], x + 2, 964.5);
});

// footer
rect(0, 989, 1841, 19, '#ffffff', null, Z);
txt('CQG Inc. \u00a9 2025 All rights reserved worldwide. https://www.cqg.com', 2, 999,
  {fill: '#000000', font: '12px ' + NARROW});
txt('SPC5 - S&P 500, 60 Min (Delayed by 10 mins) | Sat Sep 20 2025 08:10:24, CQG 25.12.8015', 1839, 999,
  {fill: '#000000', font: '12px ' + NARROW, align: 'right'});

// right-side value flags (placed through the axes' scales)
function flag(yIdx, value, text, bg, fg, z) {
  const y = Math.round(chart.convertToPixel({yAxisIndex: yIdx}, value));
  rect(1781, y - 7, 56, 14, bg, null, z);
  txt(text, 1836, y + 0.5, {fill: fg, align: 'right', z: z + 1});
}
flag(0, last[3], last[3].toFixed(2), '#00d200', '#000000', Z + 10);
flag(0, ma21[ma21.length - 1][1], ma21[ma21.length - 1][1].toFixed(2), '#00d6e0', '#000000', Z + 10);
flag(0, ma50[ma50.length - 1][1], ma50[ma50.length - 1][1].toFixed(2), '#e00000', '#ffffff', Z + 10);
flag(0, ma100[ma100.length - 1][1], ma100[ma100.length - 1][1].toFixed(2), '#00d200', '#000000', Z + 10);
flag(0, ma200[ma200.length - 1][1], ma200[ma200.length - 1][1].toFixed(2), '#e0e000', '#000000', Z + 10);
flag(2, ssd[ssd.length - 1][1], '', '#e00000', '#ffffff', Z + 10);
flag(2, ssk[ssk.length - 1][1], ssk[ssk.length - 1][1].toFixed(1), '#0000e0', '#ffffff', Z + 12);
flag(3, macdAvg[macdAvg.length - 1][1], '', '#e00000', '#ffffff', Z + 10);
flag(3, macdLine[macdLine.length - 1][1], '+' + macdLine[macdLine.length - 1][1].toFixed(2), '#0000e0', '#ffffff', Z + 12);
flag(4, rsi9[rsi9.length - 1][1], rsi9[rsi9.length - 1][1].toFixed(1), '#e0e000', '#000000', Z + 10);

chart.setOption({graphic: {elements: g}});
</script>
</body>
</html>
